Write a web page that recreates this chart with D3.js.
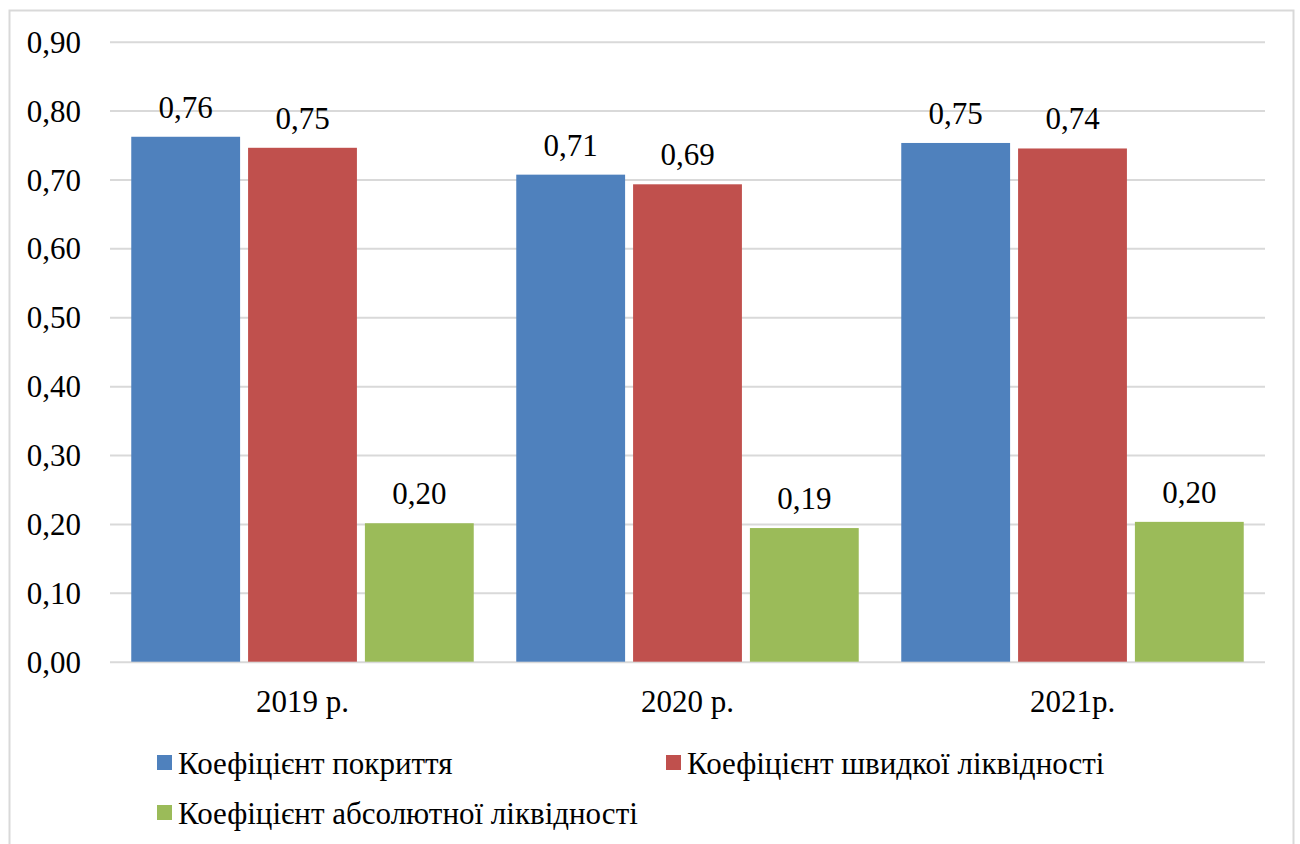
<!DOCTYPE html>
<html>
<head>
<meta charset="utf-8">
<script src="https://cdn.jsdelivr.net/npm/d3@7"></script>
</head>
<body style="margin:0">
<div id="chart"></div>
<script>
// ── data ─────────────────────────────────────────────────────────────────────
const years   = ['2019 р.', '2020 р.', '2021р.'];
const series  = ['Коефіцієнт покриття', 'Коефіцієнт швидкої ліквідності', 'Коефіцієнт абсолютної ліквідності'];
const cover   = [0.762, 0.707, 0.753];
const quick   = [0.746, 0.693, 0.745];
const absol   = [0.201, 0.194, 0.203];
const yTicks  = [0, 0.1, 0.2, 0.3, 0.4, 0.5, 0.6, 0.7, 0.8, 0.9];
const colors  = ['#4f81bd', '#c0504d', '#9bbb59'];

const values = [cover, quick, absol];
const fmt = v => v.toFixed(2).replace('.', ',');
const FONT = "'Liberation Serif', Tinos, 'Times New Roman', serif";

const W = 1300, H = 844;
const plot = { left: 110, right: 1265, top: 41.7, bottom: 661.7 };

const svg = d3.select('#chart').append('svg')
  .attr('width', W).attr('height', H)
  .attr('font-family', FONT);

// outer frame
svg.append('rect')
  .attr('x', 9.5).attr('y', 10.5)
  .attr('width', 1284).attr('height', 850)
  .attr('fill', 'none').attr('stroke', '#d9d9d9').attr('stroke-width', 2);

// ── scales ───────────────────────────────────────────────────────────────────
const x0 = d3.scaleBand().domain(years).range([plot.left, plot.right]);
const x1 = d3.scaleBand().domain(d3.range(series.length))
  .range([0, x0.bandwidth()])
  .paddingInner(8 / 117).paddingOuter(0.182);
const y = d3.scaleLinear().domain([0, 0.9]).range([plot.bottom, plot.top]);

// text helper so every label gets the same serif face
const serif = sel => sel.attr('font-family', FONT).attr('font-size', 31).attr('fill', '#000');

// ── grid + y labels ──────────────────────────────────────────────────────────
svg.append('g')
  .attr('transform', `translate(${plot.left},0)`)
  .call(d3.axisLeft(y).tickValues(yTicks).tickSize(-(plot.right - plot.left)).tickFormat(fmt).tickPadding(29))
  .attr('font-family', FONT).attr('font-size', 31)
  .call(g => g.select('.domain').remove())
  .call(g => g.selectAll('.tick line').attr('stroke', '#d9d9d9').attr('stroke-width', 2))
  .call(g => g.selectAll('.tick text').call(serif).attr('dy', '0.34em'));

// ── bars ─────────────────────────────────────────────────────────────────────
const groups = svg.append('g').selectAll('g')
  .data(years).join('g')
  .attr('transform', d => `translate(${x0(d)},0)`);

groups.selectAll('rect')
  .data((d, i) => values.map((s, k) => ({ k, v: s[i] })))
  .join('rect')
  .attr('x', d => x1(d.k))
  .attr('width', x1.bandwidth())
  .attr('y', d => y(d.v))
  .attr('height', d => y(0) - y(d.v))
  .attr('fill', d => colors[d.k]);

groups.selectAll('text.val')
  .data((d, i) => values.map((s, k) => ({ k, v: s[i] })))
  .join('text')
  .attr('class', 'val')
  .attr('x', d => x1(d.k) + x1.bandwidth() / 2)
  .attr('y', d => y(d.v) - 19)
  .attr('text-anchor', 'middle')
  .call(serif)
  .text(d => fmt(d.v));

// ── x labels ─────────────────────────────────────────────────────────────────
svg.append('g').selectAll('text')
  .data(years).join('text')
  .attr('x', d => x0(d) + x0.bandwidth() / 2)
  .attr('y', 712)
  .attr('text-anchor', 'middle')
  .call(serif)
  .text(d => d);

// ── legend ───────────────────────────────────────────────────────────────────
const legendPos = [[157, 763], [666, 763], [157, 813]];
const lg = svg.append('g').selectAll('g')
  .data(series).join('g')
  .attr('transform', (d, i) => `translate(${legendPos[i][0]},${legendPos[i][1]})`);
lg.append('rect')
  .attr('x', 0).attr('y', -8).attr('width', 15).attr('height', 15)
  .attr('fill', (d, i) => colors[i]);
lg.append('text')
  .attr('x', 21).attr('y', 11)
  .call(serif)
  .text(d => d);
</script>
</body>
</html>
